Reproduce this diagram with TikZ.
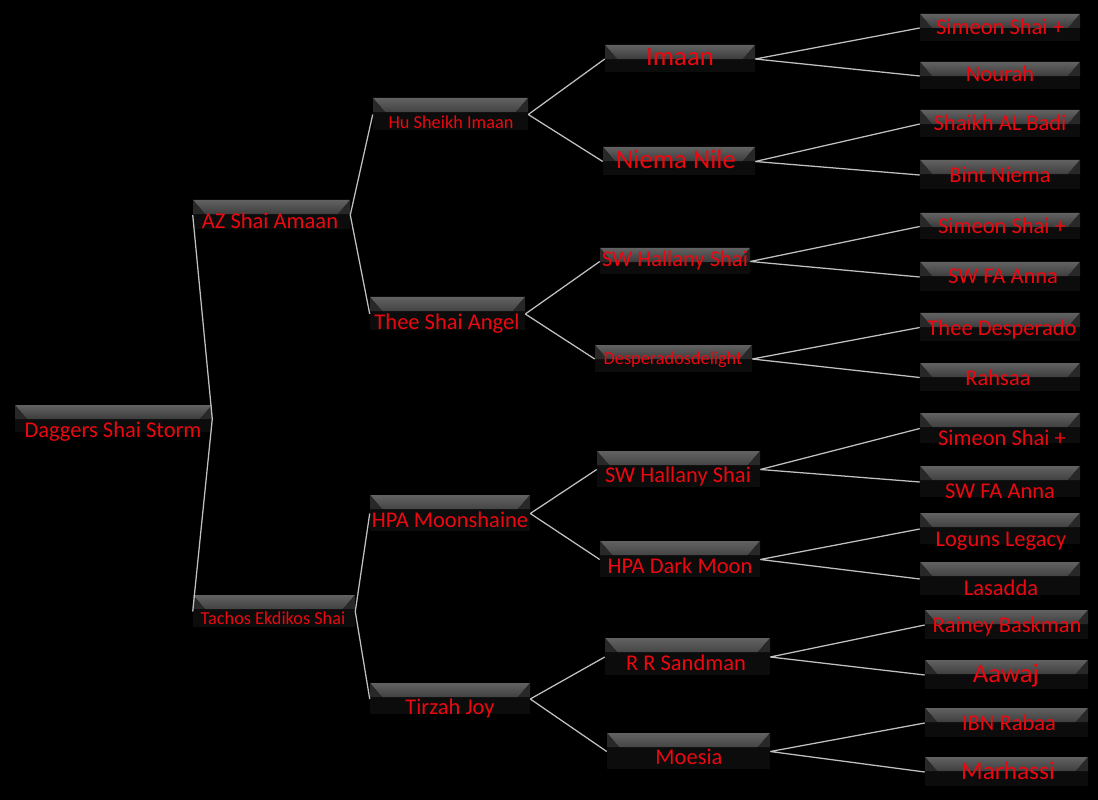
\documentclass[tikz,border=0pt]{standalone}
\usepackage{fontspec}
\setmainfont{Carlito}
\usepackage{tikz}
\usetikzlibrary{fit}
\definecolor{tred}{RGB}{235,8,16}
\definecolor{bandtop}{RGB}{98,98,98}
\definecolor{bandbot}{RGB}{22,22,22}
\definecolor{bevel}{RGB}{40,40,40}
\definecolor{boxbody}{RGB}{12,12,12}
\definecolor{baseline}{RGB}{70,70,70}
\definecolor{wire}{RGB}{192,192,192}

\begin{document}
\begin{tikzpicture}[x=0.025cm, y=-0.025cm]
    \tikzstyle{pbox}=[inner sep=0pt, fill=boxbody, path picture={
        \shade[top color=bandtop, bottom color=bandbot] (path picture bounding box.north west) -- (path picture bounding box.north east) -- ([xshift=-0.3cm,yshift=-0.35cm]path picture bounding box.north east) -- ([xshift=0.3cm,yshift=-0.35cm]path picture bounding box.north west) -- cycle;
        \fill[bevel] (path picture bounding box.north west) -- ([xshift=0.3cm,yshift=-0.35cm]path picture bounding box.north west) -- ([yshift=-0.35cm]path picture bounding box.north west) -- cycle;
        \fill[bevel] (path picture bounding box.north east) -- ([xshift=-0.3cm,yshift=-0.35cm]path picture bounding box.north east) -- ([yshift=-0.35cm]path picture bounding box.north east) -- cycle;
        \draw[baseline, line width=1.2pt] (path picture bounding box.south west) -- (path picture bounding box.south east);
    }];
    \tikzstyle{lbl}=[text=tred, inner sep=0pt, anchor=base, font=\fontsize{16}{19}\selectfont];
    \tikzstyle{sml}=[font=\fontsize{13}{15}\selectfont];
    \tikzstyle{big}=[font=\fontsize{19}{22}\selectfont];
    \tikzstyle{wire}=[draw=wire, line width=0.9pt];

    \fill[black] (0,0) rectangle (1098,800);
    \useasboundingbox (0,0) rectangle (1098,800);

    %1
    \node[pbox, fit={(15,405) (212,433)}] (root) {};
    \node[lbl] (t-root) at (113,437) {Daggers Shai Storm};
    %2
    \node[pbox, fit={(193,200) (350,230)}] (az) {};
    \node[lbl] (t-az) at (270,229) {AZ Shai Amaan};
    \node[pbox, fit={(193,595) (355,628)}] (tachos) {};
    \node[lbl,sml] (t-tachos) at (273,624) {Tachos Ekdikos Shai};
    %3
    \node[pbox, fit={(373,98) (528,131)}] (hu) {};
    \node[lbl,sml] (t-hu) at (451,129) {Hu Sheikh Imaan};
    \node[pbox, fit={(370,297) (525,331)}] (thee) {};
    \node[lbl] (t-thee) at (447,329) {Thee Shai Angel};
    \node[pbox, fit={(370,495) (530,532)}] (hpa) {};
    \node[lbl] (t-hpa) at (450,527) {HPA Moonshaine};
    \node[pbox, fit={(370,683) (530,715)}] (tirzah) {};
    \node[lbl] (t-tirzah) at (450,714) {Tirzah Joy};
    %4
    \node[pbox, fit={(605,45) (755,73)}] (imaan) {};
    \node[lbl,big] (t-imaan) at (680,66) {Imaan};
    \node[pbox, fit={(603,147) (755,176)}] (niema) {};
    \node[lbl,big] (t-niema) at (676,169) {Niema Nile};
    \node[pbox, fit={(600,248) (750,275)}] (swh1) {};
    \node[lbl] (t-swh1) at (675,267) {SW Hallany Shai};
    \node[pbox, fit={(595,345) (752,373)}] (desp) {};
    \node[lbl,sml] (t-desp) at (673,364) {Desperadosdelight};
    \node[pbox, fit={(597,451) (760,488)}] (swh2) {};
    \node[lbl] (t-swh2) at (678,482) {SW Hallany Shai};
    \node[pbox, fit={(600,541) (760,578)}] (hpadm) {};
    \node[lbl] (t-hpadm) at (680,573) {HPA Dark Moon};
    \node[pbox, fit={(605,638) (770,676)}] (rrs) {};
    \node[lbl] (t-rrs) at (686,670) {R R Sandman};
    \node[pbox, fit={(607,733) (770,770)}] (moesia) {};
    \node[lbl] (t-moesia) at (689,764) {Moesia};
    %5
    \node[pbox, fit={(920,14) (1080,42)}] (simeonA) {};
    \node[lbl] (t-simeonA) at (1000,35) {Simeon Shai +};
    \node[pbox, fit={(920,62) (1080,90)}] (nourah) {};
    \node[lbl] (t-nourah) at (1000,82) {Nourah};
    \node[pbox, fit={(920,110) (1080,138)}] (shaikh) {};
    \node[lbl] (t-shaikh) at (1000,131) {Shaikh AL Badi};
    \node[pbox, fit={(920,160) (1080,190)}] (bint) {};
    \node[lbl] (t-bint) at (1000,183) {Bint Niema};
    \node[pbox, fit={(920,213) (1080,240)}] (simeonB) {};
    \node[lbl] (t-simeonB) at (1002,234) {Simeon Shai +};
    \node[pbox, fit={(920,262) (1080,292)}] (swfaA) {};
    \node[lbl] (t-swfaA) at (1003,284) {SW FA Anna};
    \node[pbox, fit={(920,313) (1080,342)}] (theed) {};
    \node[lbl] (t-theed) at (1002,335) {Thee Desperado};
    \node[pbox, fit={(920,363) (1080,392)}] (rahsaa) {};
    \node[lbl] (t-rahsaa) at (998,385) {Rahsaa};
    \node[pbox, fit={(920,413) (1080,444)}] (simeonC) {};
    \node[lbl] (t-simeonC) at (1002,445) {Simeon Shai +};
    \node[pbox, fit={(920,466) (1080,498)}] (swfaB) {};
    \node[lbl] (t-swfaB) at (1000,498) {SW FA Anna};
    \node[pbox, fit={(920,513) (1080,545)}] (loguns) {};
    \node[lbl] (t-loguns) at (1001,546) {Loguns Legacy};
    \node[pbox, fit={(920,562) (1080,596)}] (lasadda) {};
    \node[lbl] (t-lasadda) at (1001,595) {Lasadda};
    \node[pbox, fit={(925,610) (1088,640)}] (rainey) {};
    \node[lbl] (t-rainey) at (1007,632) {Rainey Baskman};
    \node[pbox, fit={(925,660) (1088,690)}] (aawaj) {};
    \node[lbl,big] (t-aawaj) at (1006,682) {Aawaj};
    \node[pbox, fit={(925,708) (1088,738)}] (ibn) {};
    \node[lbl] (t-ibn) at (1009,730) {IBN Rabaa};
    \node[pbox, fit={(925,757) (1088,787)}] (marhassi) {};
    \node[lbl,font=\fontsize{18}{21}\selectfont] (t-marhassi) at (1008,779) {Marhassi};

    % connectors
    \draw[wire] (root.east) -- (az.west) (root.east) -- (tachos.west);
    \draw[wire] (az.east) -- (hu.west) (az.east) -- (thee.west);
    \draw[wire] (tachos.east) -- (hpa.west) (tachos.east) -- (tirzah.west);
    \draw[wire] (hu.east) -- (imaan.west) (hu.east) -- (niema.west);
    \draw[wire] (thee.east) -- (swh1.west) (thee.east) -- (desp.west);
    \draw[wire] (hpa.east) -- (swh2.west) (hpa.east) -- (hpadm.west);
    \draw[wire] (tirzah.east) -- (rrs.west) (tirzah.east) -- (moesia.west);
    \draw[wire] (imaan.east) -- (simeonA.west) (imaan.east) -- (nourah.west);
    \draw[wire] (niema.east) -- (shaikh.west) (niema.east) -- (bint.west);
    \draw[wire] (swh1.east) -- (simeonB.west) (swh1.east) -- (swfaA.west);
    \draw[wire] (desp.east) -- (theed.west) (desp.east) -- (rahsaa.west);
    \draw[wire] (swh2.east) -- (simeonC.west) (swh2.east) -- (swfaB.west);
    \draw[wire] (hpadm.east) -- (loguns.west) (hpadm.east) -- (lasadda.west);
    \draw[wire] (rrs.east) -- (rainey.west) (rrs.east) -- (aawaj.west);
    \draw[wire] (moesia.east) -- (ibn.west) (moesia.east) -- (marhassi.west);
\end{tikzpicture}
\end{document}
